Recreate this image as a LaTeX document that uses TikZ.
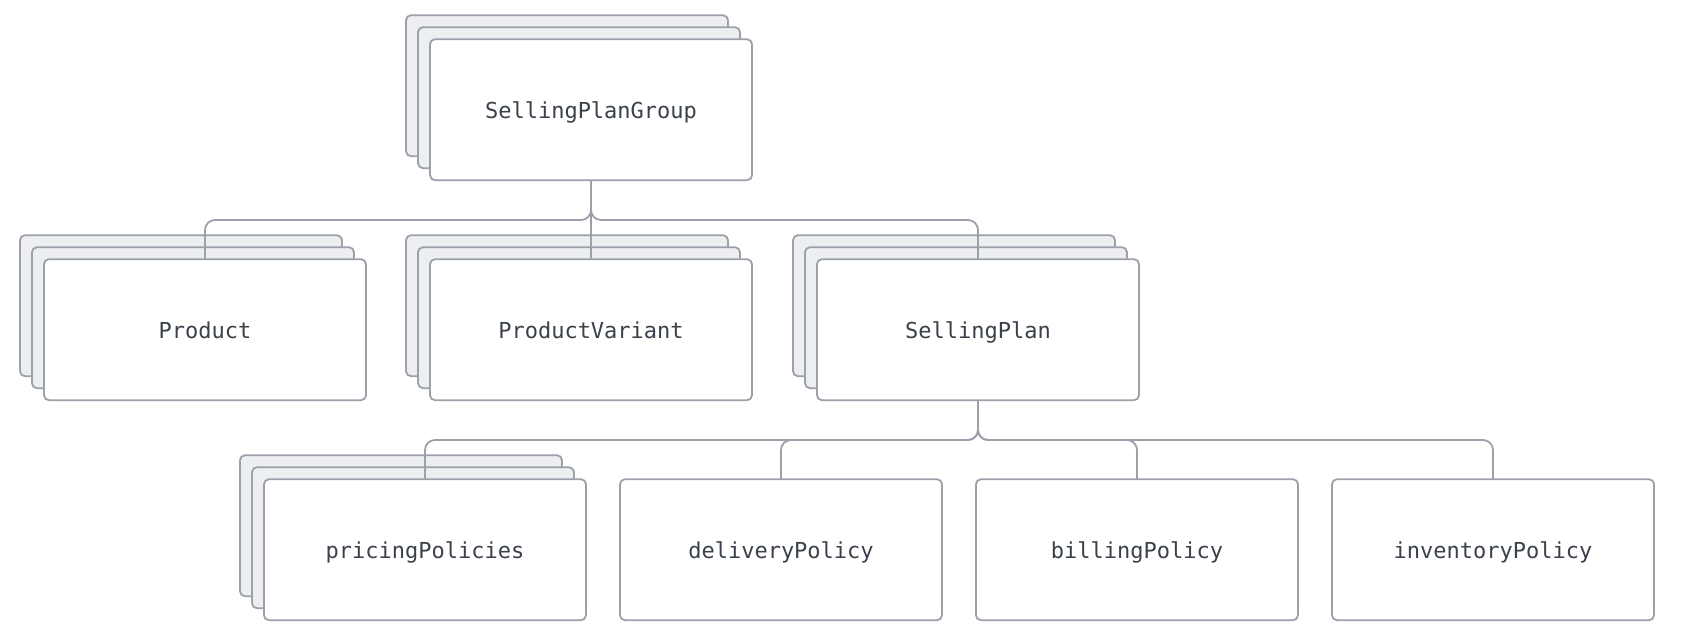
\documentclass[tikz,border=0pt]{standalone}
\usepackage{fontspec}
\setmonofont{DejaVu Sans Mono}
\usetikzlibrary{shadows}
\definecolor{bordercol}{HTML}{9BA0AA}
\definecolor{backcol}{HTML}{EDEEF0}
\definecolor{textcol}{HTML}{3A414B}
\tikzset{
  card/.style={draw=bordercol, fill=white, line width=1.8pt, rounded corners=5pt,
    minimum width=322pt, minimum height=141pt, inner sep=0pt, outer sep=0pt,
    text height=17.2pt, text depth=0pt,
    text=textcol, font=\ttfamily\fontsize{22}{24}\selectfont},
  stackcard/.style={card,
    copy shadow={shadow xshift=-24pt, shadow yshift=24pt, fill=backcol, draw=bordercol},
    copy shadow={shadow xshift=-12pt, shadow yshift=12pt, fill=backcol, draw=bordercol}},
  link/.style={draw=bordercol, line width=1.8pt, rounded corners=10pt}
}
\begin{document}
\begin{tikzpicture}[x=1pt,y=-1pt]
\useasboundingbox (0,0) rectangle (1695,639);
% nodes
\node[stackcard] (spg) at (591,109.7) {SellingPlanGroup};
\node[stackcard] (prod) at (205,329.7) {Product};
\node[stackcard] (pv) at (591,329.7) {ProductVariant};
\node[stackcard] (sp) at (978,329.7) {SellingPlan};
\node[stackcard] (pp) at (425,549.7) {pricingPolicies};
\node[card] (dp) at (781,549.7) {deliveryPolicy};
\node[card] (bp) at (1137,549.7) {billingPolicy};
\node[card] (ip) at (1493,549.7) {inventoryPolicy};
\coordinate (busa) at (0,220);
\coordinate (busb) at (0,440);
% connectors
\draw[link] (spg.south) -- (spg.south |- busa) -- (prod.north |- busa) -- (prod.north);
\draw[link] (spg.south) -- (pv.north);
\draw[link] (spg.south) -- (spg.south |- busa) -- (sp.north |- busa) -- (sp.north);
\draw[link] (sp.south) -- (sp.south |- busb) -- (pp.north |- busb) -- (pp.north);
\draw[link] (sp.south) -- (sp.south |- busb) -- (dp.north |- busb) -- (dp.north);
\draw[link] (sp.south) -- (sp.south |- busb) -- (bp.north |- busb) -- (bp.north);
\draw[link] (sp.south) -- (sp.south |- busb) -- (ip.north |- busb) -- (ip.north);
\end{tikzpicture}
\end{document}
